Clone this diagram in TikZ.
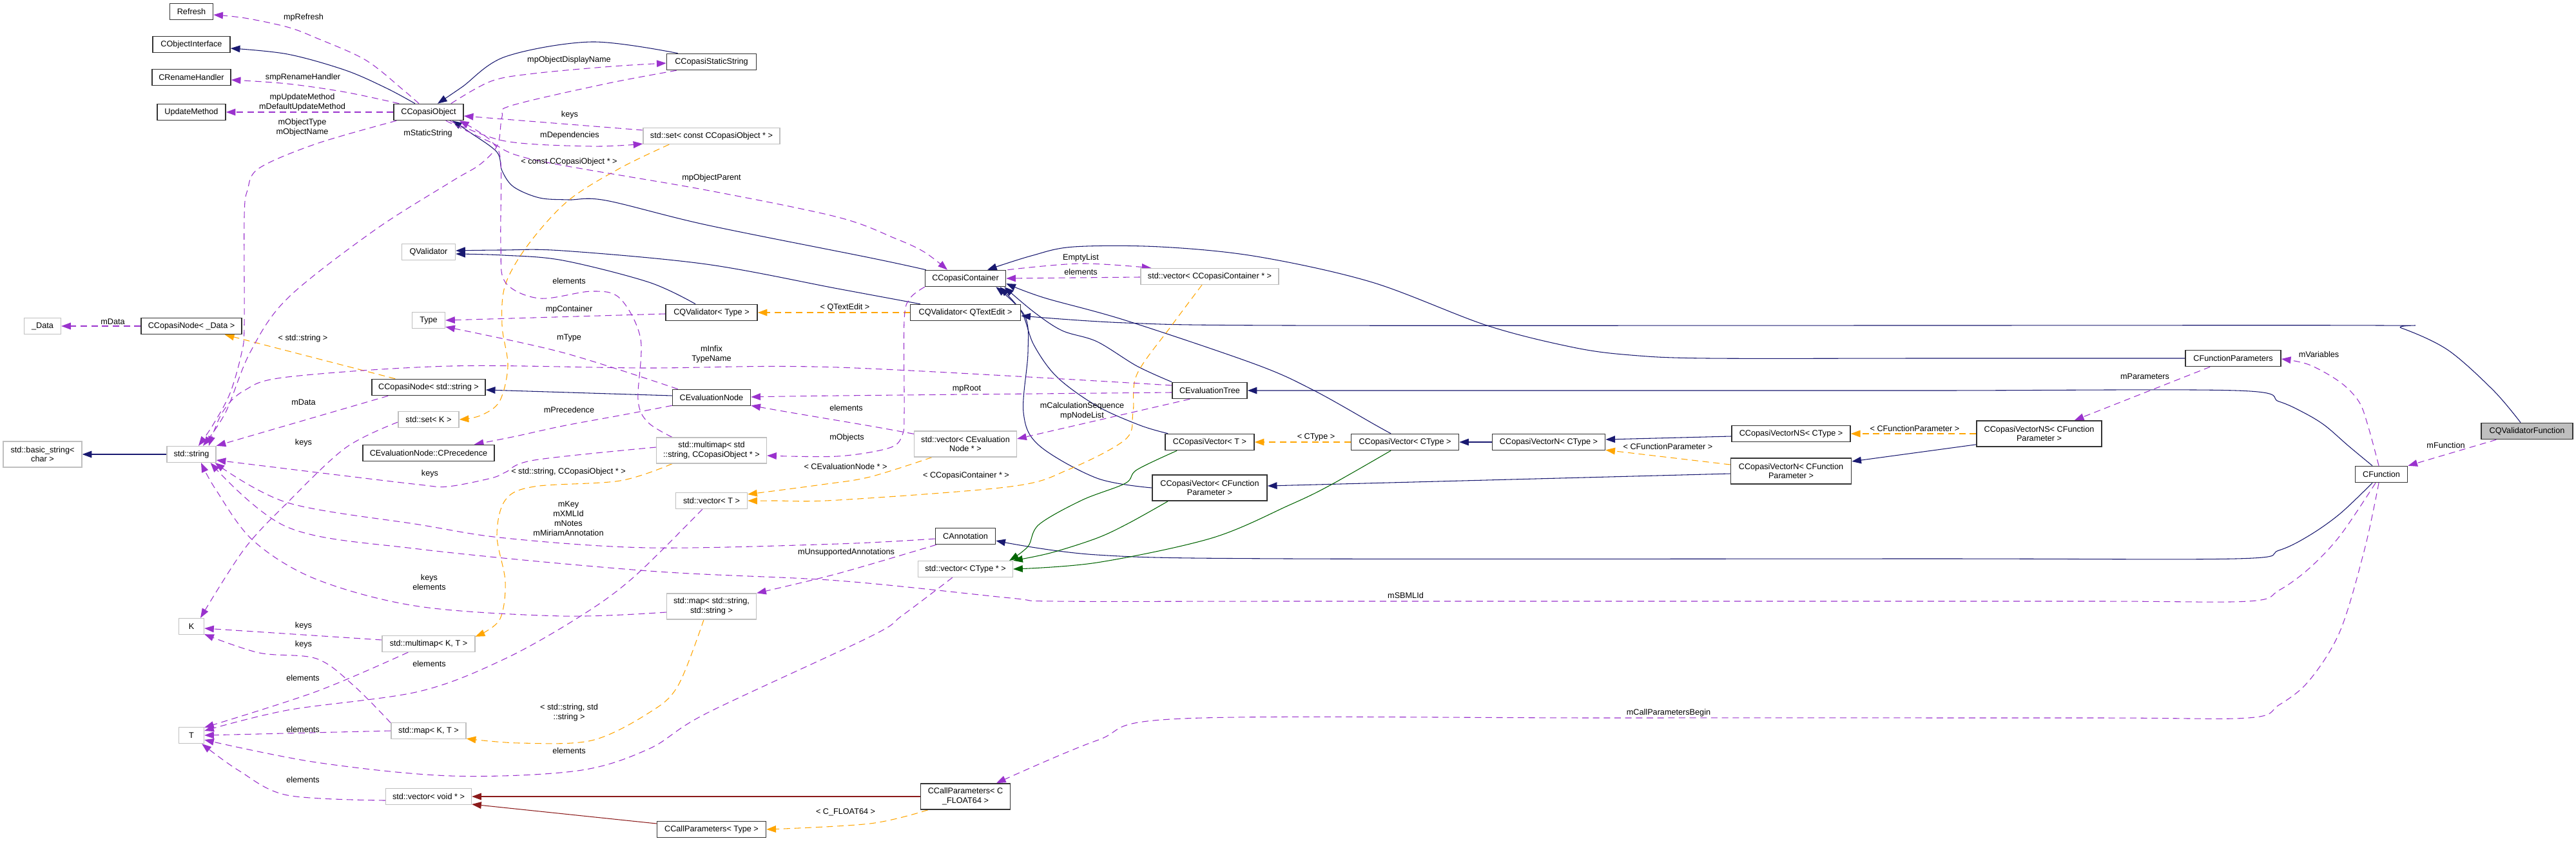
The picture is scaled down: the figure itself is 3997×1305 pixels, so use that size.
\documentclass[tikz,border=0pt]{standalone}
\usepackage{fontspec}
\setmainfont{Liberation Sans}
\usetikzlibrary{arrows.meta,calc}
\pgfdeclarelayer{bg}
\pgfsetlayers{bg,main}
\definecolor{navyc}{RGB}{25,25,112}
\definecolor{purc}{RGB}{154,50,205}
\definecolor{orac}{RGB}{255,165,0}
\definecolor{grnc}{RGB}{0,100,0}
\definecolor{redc}{RGB}{139,26,26}
\definecolor{bordgray}{RGB}{191,191,191}
\definecolor{fillgray}{RGB}{191,191,191}
\tikzset{
 box/.style={draw=black!80, line width=1.2pt, fill=white, inner sep=0pt, minimum height=18.75pt, align=center},
 gbox/.style={draw=bordgray, line width=1pt, fill=white, inner sep=0pt, minimum height=18.75pt, align=center},
 two/.style={minimum height=30pt},
 lbl/.style={inner sep=0pt, align=center},
 arrowend/.style={-{Triangle[length=11pt,width=8pt]}},
 eInh/.style={draw=navyc, line width=0.8pt, arrowend},
 eUse/.style={draw=purc, line width=0.8pt, arrowend, dash pattern=on 7.5pt off 5pt},
 eTpl/.style={draw=orac, line width=0.8pt, arrowend, dash pattern=on 7.5pt off 5pt},
 eProt/.style={draw=grnc, line width=0.8pt, arrowend},
 ePriv/.style={draw=redc, line width=0.8pt, arrowend}
}
\begin{document}
\begin{tikzpicture}[x=0.75pt,y=-0.75pt,font=\fontsize{9.5pt}{11.2pt}\selectfont]
\useasboundingbox (0,0) rectangle (3997,1305);
% ---------------- nodes ----------------
\node[gbox,minimum width=42.75pt] (data) at (66,506) {\_Data};
\node[gbox,two,minimum width=91.5pt] (bstr) at (66,705) {std::basic\_string<\\char >};
\node[box,minimum width=50.25pt] (refresh) at (297,18) {Refresh};
\node[box,minimum width=90pt] (cobjint) at (297,69) {CObjectInterface};
\node[box,minimum width=91.5pt] (crename) at (297,120) {CRenameHandler};
\node[box,minimum width=79.5pt] (updm) at (297,174) {UpdateMethod};
\node[box,minimum width=117pt] (cnodedata) at (297,506) {CCopasiNode< \_Data >};
\node[gbox,minimum width=57pt] (str) at (297,705) {std::string};
\node[gbox,minimum width=29.25pt] (K) at (297,972) {K};
\node[gbox,minimum width=29.25pt] (T) at (297,1141) {T};
\node[box,minimum width=81pt] (cobj) at (665,174) {CCopasiObject};
\node[gbox,minimum width=62.25pt] (qval) at (665,391) {QValidator};
\node[gbox,minimum width=38.25pt] (type) at (665,497) {Type};
\node[box,minimum width=132pt] (cnodestr) at (665,601) {CCopasiNode< std::string >};
\node[gbox,minimum width=70.5pt] (setK) at (665,651) {std::set< K >};
\node[box,minimum width=153pt] (cprec) at (665,703) {CEvaluationNode::CPrecedence};
\node[gbox,minimum width=108pt] (mmapKT) at (665,999) {std::multimap< K, T >};
\node[gbox,minimum width=87pt] (mapKT) at (665,1134) {std::map< K, T >};
\node[gbox,minimum width=99.75pt] (vecvoid) at (665,1236) {std::vector< void * >};
\node[box,minimum width=104.25pt] (cstat) at (1104,96) {CCopasiStaticString};
\node[gbox,minimum width=159pt] (setconst) at (1104,211) {std::set< const CCopasiObject * >};
\node[box,minimum width=106.5pt] (cqvtype) at (1104,485) {CQValidator< Type >};
\node[box,minimum width=90.75pt] (cevnode) at (1104,617) {CEvaluationNode};
\node[gbox,two,minimum width=128.25pt] (mmapstr) at (1104,699) {std::multimap< std\\::string, CCopasiObject * >};
\node[gbox,minimum width=83.25pt] (vecT) at (1104,777) {std::vector< T >};
\node[gbox,two,minimum width=104.25pt] (mapss) at (1104,941) {std::map< std::string,\\std::string >};
\node[box,minimum width=126.75pt] (ccpType) at (1104,1287) {CCallParameters< Type >};
\node[box,minimum width=93.75pt] (ccont) at (1498,432) {CCopasiContainer};
\node[box,minimum width=128.25pt] (cqvqte) at (1498,485) {CQValidator< QTextEdit >};
\node[gbox,two,minimum width=119.25pt] (vecEN) at (1498,689) {std::vector< CEvaluation\\Node * >};
\node[box,minimum width=69.75pt] (cannot) at (1498,832) {CAnnotation};
\node[gbox,minimum width=110.25pt] (vecCT) at (1498,883) {std::vector< CType * >};
\node[box,two,minimum width=104.25pt] (ccpF) at (1498,1236) {CCallParameters< C\\\_FLOAT64 >};
\node[gbox,minimum width=160.5pt] (vecCC) at (1877,429) {std::vector< CCopasiContainer * >};
\node[box,minimum width=87pt] (cevtree) at (1877,606) {CEvaluationTree};
\node[box,minimum width=103.5pt] (cvT) at (1877,686) {CCopasiVector< T >};
\node[box,two,minimum width=133.5pt] (cvFP) at (1877,757) {CCopasiVector< CFunction\\Parameter >};
\node[box,minimum width=125.25pt] (cvCT) at (2180,686) {CCopasiVector< CType >};
\node[box,minimum width=131.25pt] (cvnCT) at (2403,686) {CCopasiVectorN< CType >};
\node[box,minimum width=138pt] (cvnsCT) at (2779,673) {CCopasiVectorNS< CType >};
\node[box,two,minimum width=140.25pt] (cvnFP) at (2779,731) {CCopasiVectorN< CFunction\\Parameter >};
\node[box,two,minimum width=145.5pt] (cvnsFP) at (3164,673) {CCopasiVectorNS< CFunction\\Parameter >};
\node[box,minimum width=111pt] (cfparams) at (3465,556) {CFunctionParameters};
\node[box,minimum width=60.75pt] (cfunc) at (3695,736) {CFunction};
\node[box,fill=fillgray,minimum width=106.5pt] (cqvf) at (3921,669) {CQValidatorFunction};
% ---------------- labels ----------------
\node[lbl] (l1) at (471,27) {mpRefresh};
\node[lbl] (l2) at (470,120) {smpRenameHandler};
\node[lbl] (l3) at (469,159) {mpUpdateMethod\\mDefaultUpdateMethod};
\node[lbl] (l4) at (469,198) {mObjectType\\mObjectName};
\node[lbl] (l5) at (664,207) {mStaticString};
\node[lbl] (l6) at (883,93) {mpObjectDisplayName};
\node[lbl] (l7) at (884,178) {keys};
\node[lbl] (l8) at (884,210) {mDependencies};
\node[lbl] (l9) at (883,251) {< const CCopasiObject * >};
\node[lbl] (l10) at (1104,276) {mpObjectParent};
\node[lbl] (l11) at (883,436) {elements};
\node[lbl] (l12) at (883,480) {mpContainer};
\node[lbl] (l13) at (883,524) {mType};
\node[lbl] (l14) at (1104,550) {mInfix\\TypeName};
\node[lbl] (l15) at (883,636) {mPrecedence};
\node[lbl] (l16) at (1313,633) {elements};
\node[lbl] (l17) at (1311,477) {< QTextEdit >};
\node[lbl] (l18) at (1677,400) {EmptyList};
\node[lbl] (l19) at (1677,422) {elements};
\node[lbl] (l20) at (1500,603) {mpRoot};
\node[lbl] (l21) at (1679,638) {mCalculationSequence\\mpNodeList};
\node[lbl] (l22) at (175,499) {mData};
\node[lbl] (l23) at (470,525) {< std::string >};
\node[lbl] (l24) at (471,624) {mData};
\node[lbl] (l25) at (3598,550) {mVariables};
\node[lbl] (l26) at (3328,584) {mParameters};
\node[lbl] (l27) at (3795,691) {mFunction};
\node[lbl] (l28) at (471,687) {keys};
\node[lbl] (l29) at (667,735) {keys};
\node[lbl] (l30) at (666,903) {keys\\elements};
\node[lbl] (l31) at (471,971) {keys};
\node[lbl] (l32) at (471,1000) {keys};
\node[lbl] (l33) at (666,1030) {elements};
\node[lbl] (l34) at (470,1052) {elements};
\node[lbl] (l35) at (470,1132) {elements};
\node[lbl] (l36) at (470,1210) {elements};
\node[lbl] (l37) at (1314,679) {mObjects};
\node[lbl] (l38) at (1312,724) {< CEvaluationNode * >};
\node[lbl] (l39) at (882,732) {< std::string, CCopasiObject * >};
\node[lbl] (l40) at (882,805) {mKey\\mXMLId\\mNotes\\mMiriamAnnotation};
\node[lbl] (l41) at (1313,857) {mUnsupportedAnnotations};
\node[lbl] (l42) at (883,1106) {< std::string, std\\::string >};
\node[lbl] (l43) at (883,1165) {elements};
\node[lbl] (l44) at (1312,1260) {< C\_FLOAT64 >};
\node[lbl] (l45) at (1499,738) {< CCopasiContainer * >};
\node[lbl] (l46) at (2042,678) {< CType >};
\node[lbl] (l47) at (2588,693) {< CFunctionParameter >};
\node[lbl] (l48) at (2181,924) {mSBMLId};
\node[lbl] (l49) at (2589,1106) {mCallParametersBegin};
\node[lbl] (l50) at (2971,665) {< CFunctionParameter >};
% ---------------- edges ----------------
\begin{pgfonlayer}{bg}
\fill[white] (0,0) rectangle (3997,1305);
% navy (public inheritance)
\coordinate (s1) at ($(cobj.north)+(-21,0)$);
\coordinate (t1) at ($(cobjint.east)+(0,6)$);
\draw[eInh] plot[smooth,tension=0.55] coordinates {(s1) (600,137) (536,109) (446,84) (t1)};
\coordinate (s2) at ($(cstat.north west)+(18,0)$);
\coordinate (t2) at ($(cobj.north)+(14,0)$);
\draw[eInh] plot[smooth,tension=0.55] coordinates {(s2) (918,65) (784,88) (717,135) (t2)};
\coordinate (s3) at ($(ccont.north west)+(2,0)$);
\coordinate (t3) at ($(cobj.south east)+(-18,0)$);
\draw[eInh] plot[smooth,tension=0.55] coordinates {(s3) (1350,400) (1096,349) (940,311) (882,310) (837,307) (797,290) (779,265) (771,236) (730,206) (t3)};
\coordinate (s4) at ($(cqvtype.north)+(-25,0)$);
\coordinate (t4) at ($(qval.east)+(0,3)$);
\draw[eInh] plot[smooth,tension=0.55] coordinates {(s4) (1007,438) (873,404) (780,396) (t4)};
\coordinate (s5) at ($(cqvqte.north west)+(16,0)$);
\coordinate (t5) at ($(qval.east)+(0,-2)$);
\draw[eInh] plot[smooth,tension=0.55] coordinates {(s5) (1300,448) (1096,410) (873,389) (780,388) (t5)};
\draw[eInh] ($(cevnode.west)+(0,-3)$) -- ($(cnodestr.east)+(0,4)$);
\draw[eInh] (str.west) -- (bstr.east);
\coordinate (t8) at ($(ccont.south east)+(-3,0)$);
\draw[eInh] plot[smooth,tension=0.55] coordinates {(cevtree.north west) (1764,568) (1702,530) (1648,513) (1604,484) (t8)};
\coordinate (s9) at ($(cvT.north west)+(5,0)$);
\coordinate (t9) at ($(ccont.south east)+(-10,0)$);
\draw[eInh] plot[smooth,tension=0.55] coordinates {(s9) (1769,660) (1702,630) (1640,585) (1604,535) (1585,484) (t9)};
\coordinate (t9b) at ($(ccont.south east)+(-16,0)$);
\draw[eInh] plot[smooth,tension=0.55] coordinates {(cvFP.west) (1702,742) (1612,691) (1588,640) (1595,547) (1590,490) (t9b)};
\coordinate (s9c) at ($(cvCT.north)+(-22,0)$);
\coordinate (t9c) at ($(ccont.east)+(0,8)$);
\draw[eInh] plot[smooth,tension=0.55] coordinates {(s9c) (2135,660) (2039,606) (1950,566) (1746,497) (1620,462) (t9c)};
\coordinate (t10) at ($(ccont.north)+(34,0)$);
\draw[eInh] plot[smooth,tension=0.55] coordinates {(cfparams.west) (3000,556) (2650,556) (2530,551) (2441,539) (2307,505) (2129,438) (1950,398) (1800,383) (1666,383) (1600,397) (t10)};
\coordinate (s11) at ($(cfunc.north)+(-14,0)$);
\draw[eInh] plot[smooth,tension=0.55] coordinates {(s11) (3644,692) (3607,660) (3574,640) (3536,623) (3469,606) (3000,606) (2400,606) (cevtree.east)};
\coordinate (s12) at ($(cfunc.south)+(-14,0)$);
\coordinate (t12) at ($(cannot.east)+(0,7)$);
\draw[eInh] plot[smooth,tension=0.55] coordinates {(s12) (3631,797) (3583,831) (3536,854) (3469,867) (3000,867) (2000,867) (1702,861) (t12)};
\coordinate (s13) at ($(cqvf.north)+(-10,0)$);
\coordinate (t13) at ($(cqvqte.east)+(0,5)$);
\draw[eInh] plot[smooth,tension=0.55] coordinates {(s13) (3869,606) (3798,543) (3726,509) (3693,505) (3000,505) (2000,505) (1746,501) (t13)};
\draw[eInh] (cvnCT.west) -- (cvCT.east);
\draw[eInh] ($(cvnsCT.west)+(0,4)$) -- ($(cvnCT.east)+(0,-4)$);
\draw[eInh] ($(cvnFP.west)+(0,4)$) -- ($(cvFP.east)+(0,-3)$);
\draw[eInh] ($(cvnsFP.south west)+(0,-4)$) -- ($(cvnFP.east)+(0,-15)$);
% orange (template instances)
\draw[eTpl] ($(cnodestr.north west)+(37,0)$) -- ($(cnodedata.south east)+(-27,0)$);
\coordinate (so2) at ($(setconst.south west)+(41,0)$);
\draw[eTpl] plot[smooth,tension=0.55] coordinates {(so2) (962,261) (882,311) (820,379) (784,442) (779,505) (788,568) (775,623) (745,645) (setK.east)};
\draw[eTpl] (cqvqte.west) -- (cqvtype.east);
\coordinate (so4) at ($(vecCC.south)+(-12,0)$);
\draw[eTpl] plot[smooth,tension=0.55] coordinates {(so4) (1818,505) (1764,581) (1758,640) (1746,682) (1657,729) (1568,755) (1300,776) (1200,777) (vecT.east)};
\coordinate (so5) at ($(vecEN.south west)+(28,0)$);
\coordinate (to5) at ($(vecT.east)+(0,-10)$);
\draw[eTpl] plot[smooth,tension=0.55] coordinates {(so5) (1350,740) (1275,752) (to5)};
\coordinate (so6) at ($(mmapstr.south west)+(25,0)$);
\coordinate (to6) at ($(mmapKT.north east)+(0,2)$);
\draw[eTpl] plot[smooth,tension=0.55] coordinates {(so6) (962,746) (829,755) (784,776) (771,831) (784,903) (775,962) (to6)};
\coordinate (so7) at ($(mapss.south)+(-12,0)$);
\coordinate (to7) at ($(mapKT.south east)+(0,-1)$);
\draw[eTpl] plot[smooth,tension=0.55] coordinates {(so7) (1052,1064) (1007,1106) (918,1149) (806,1153) (to7)};
\draw[eTpl] (cvCT.west) -- (cvT.east);
\draw[eTpl] ($(cvnFP.west)+(0,-10)$) -- ($(cvnCT.south east)+(0,-1)$);
\draw[eTpl] (cvnsFP.west) -- (cvnsCT.east);
\coordinate (so11) at ($(ccpF.south west)+(12,0)$);
\draw[eTpl] plot[smooth,tension=0.55] coordinates {(so11) (1350,1278) (ccpType.east)};
% green (protected inheritance)
\coordinate (sg1) at ($(cvT.south west)+(19,0)$);
\coordinate (tg1) at ($(vecCT.north east)+(-6,0)$);
\draw[eProt] plot[smooth,tension=0.55] coordinates {(sg1) (1764,729) (1746,750) (1679,776) (1612,814) (1595,848) (tg1)};
\coordinate (sg2) at ($(cvFP.south west)+(25,0)$);
\draw[eProt] plot[smooth,tension=0.55] coordinates {(sg2) (1751,812) (1702,835) (1630,858) (vecCT.north east)};
\coordinate (sg3) at ($(cvCT.south)+(-22,0)$);
\draw[eProt] plot[smooth,tension=0.55] coordinates {(sg3) (2062,754) (2000,784) (1880,835) (1702,873) (vecCT.east)};
% dark red (private inheritance)
\draw[ePriv] (ccpF.west) -- (vecvoid.east);
\draw[ePriv] ($(ccpType.west)+(0,-9)$) -- ($(vecvoid.east)+(0,12)$);
% purple (usage)
\coordinate (sp1) at ($(cobj.north)+(-15,0)$);
\coordinate (tp1) at ($(refresh.east)+(0,5)$);
\draw[eUse] plot[smooth,tension=0.55] coordinates {(sp1) (625,139) (567,93) (491,59) (446,42) (380,28) (tp1)};
\coordinate (sp2) at ($(cobj.north west)+(9,0)$);
\coordinate (tp2) at ($(crename.east)+(0,4)$);
\draw[eUse] plot[smooth,tension=0.55] coordinates {(sp2) (536,143) (446,130) (tp2)};
\draw[eUse] (cobj.west) -- (updm.east);
\coordinate (sp4) at ($(cobj.south west)+(5,0)$);
\coordinate (tp4) at ($(str.north)+(11,0)$);
\draw[eUse] plot[smooth,tension=0.55] coordinates {(sp4) (491,223) (402,261) (384,295) (379,337) (379,505) (375,547) (357,610) (330,660) (tp4)};
\coordinate (sp5) at ($(cstat.south west)+(16,0)$);
\coordinate (tp5) at ($(str.north)+(18,0)$);
\draw[eUse] plot[smooth,tension=0.55] coordinates {(sp5) (940,130) (793,164) (779,181) (772,225) (745,255) (700,282) (580,358) (446,463) (388,547) (350,640) (tp5)};
\coordinate (sp6) at ($(cobj.north east)+(-20,0)$);
\coordinate (tp6) at ($(cstat.west)+(0,2)$);
\draw[eUse] plot[smooth,tension=0.55] coordinates {(sp6) (762,126) (829,114) (950,103) (tp6)};
\draw[eUse] ($(setconst.west)+(0,-9)$) -- ($(cobj.east)+(0,6)$);
\coordinate (sp8) at ($(cobj.south east)+(-22,0)$);
\coordinate (tp8) at ($(setconst.south west)+(0,-1)$);
\draw[eUse] plot[smooth,tension=0.55] coordinates {(sp8) (784,219) (918,227) (tp8)};
\coordinate (sp9) at ($(cobj.south east)+(-28,0)$);
\coordinate (tp9) at ($(ccont.north)+(-28,0)$);
\draw[eUse] plot[smooth,tension=0.55] coordinates {(sp9) (760,220) (829,248) (1096,295) (1300,337) (1389,370) (1434,391) (tp9)};
\coordinate (sp10) at ($(mmapstr.north west)+(25,0)$);
\coordinate (tp10) at ($(cobj.south east)+(-7,0)$);
\draw[eUse] plot[smooth,tension=0.55] coordinates {(sp10) (1005,655) (990,620) (994,526) (962,463) (918,452) (837,463) (784,438) (777,379) (777,253) (765,222) (739,202) (tp10)};
\coordinate (sp11) at ($(cqvtype.west)+(0,2)$);
\draw[eUse] (sp11) -- (type.east);
\coordinate (sp12) at ($(cevnode.north west)+(9,0)$);
\coordinate (tp12) at ($(type.south east)+(0,-3)$);
\draw[eUse] plot[smooth,tension=0.55] coordinates {(sp12) (873,547) (tp12)};
\coordinate (sp13) at ($(cevtree.west)+(0,-8)$);
\coordinate (tp13) at ($(str.north)+(27,0)$);
\draw[eUse] plot[smooth,tension=0.55] coordinates {(sp13) (1300,570) (1000,571) (700,568) (446,585) (379,606) (345,640) (tp13)};
\draw[eUse] ($(cnodestr.south west)+(26,0)$) -- (str.north east);
\coordinate (sp15) at ($(mmapstr.west)+(0,-5)$);
\coordinate (tp15) at ($(str.east)+(0,9)$);
\draw[eUse] plot[smooth,tension=0.55] coordinates {(sp15) (829,714) (784,733) (762,742) (695,755) (650,752) (491,733) (tp15)};
\coordinate (sp16) at ($(cannot.west)+(0,4)$);
\coordinate (tp16) at ($(str.south east)+(-2,0)$);
\draw[eUse] plot[smooth,tension=0.55] coordinates {(sp16) (1300,844) (1007,850) (784,835) (650,814) (446,780) (tp16)};
\coordinate (sp17) at ($(cfunc.south)+(-9,0)$);
\coordinate (tp17) at ($(str.south east)+(-9,0)$);
\draw[eUse] plot[smooth,tension=0.55] coordinates {(sp17) (3631,831) (3583,882) (3536,916) (3488,933) (3250,933) (2600,933) (2000,933) (1639,933) (1568,928) (1300,901) (1007,886) (650,852) (446,818) (tp17)};
\coordinate (sp18) at ($(mapss.west)+(0,9)$);
\coordinate (tp18) at ($(str.south)+(15,0)$);
\draw[eUse] plot[smooth,tension=0.55] coordinates {(sp18) (873,956) (650,941) (491,899) (393,839) (335,760) (tp18)};
\draw[eUse] (cnodedata.west) -- (data.east);
\coordinate (sp20) at ($(cevnode.south west)+(0,-1)$);
\coordinate (tp20) at ($(cprec.north east)+(-32,0)$);
\draw[eUse] plot[smooth,tension=0.55] coordinates {(sp20) (960,645) (873,661) (800,677) (tp20)};
\coordinate (sp21) at ($(cevtree.west)+(0,3)$);
\coordinate (tp21) at ($(cevnode.east)+(0,-1)$);
\draw[eUse] plot[smooth,tension=0.55] coordinates {(sp21) (1300,614) (tp21)};
\coordinate (sp22) at ($(vecEN.north west)+(0,5)$);
\coordinate (tp22) at ($(cevnode.south east)+(0,-1)$);
\draw[eUse] plot[smooth,tension=0.55] coordinates {(sp22) (1350,661) (1226,640) (tp22)};
\coordinate (sp23) at ($(cevtree.south west)+(28,0)$);
\coordinate (tp23) at ($(vecEN.east)+(0,-8)$);
\draw[eUse] (sp23) -- (tp23);
\coordinate (sp24) at ($(ccont.north east)+(2,0)$);
\coordinate (tp24) at ($(vecCC.north west)+(17,0)$);
\draw[eUse] plot[smooth,tension=0.55] coordinates {(sp24) (1677,409) (tp24)};
\draw[eUse] ($(vecCC.west)+(0,1)$) -- (ccont.east);
\coordinate (tp26) at ($(mmapstr.east)+(0,8)$);
\draw[eUse] plot[smooth,tension=0.55] coordinates {(ccont.south west) (1412,463) (1403,497) (1403,640) (1400,675) (1380,695) (1300,708) (tp26)};
\coordinate (sp27) at ($(cannot.south west)+(2,0)$);
\draw[eUse] plot[smooth,tension=0.55] coordinates {(sp27) (1300,890) (mapss.north east)};
\coordinate (sp28) at ($(vecT.south west)+(42,0)$);
\coordinate (tp28) at ($(T.east)+(0,-7)$);
\draw[eUse] plot[smooth,tension=0.55] coordinates {(sp28) (985,894) (904,954) (784,1022) (650,1073) (446,1102) (tp28)};
\coordinate (sp29) at ($(mmapKT.south west)+(41,0)$);
\coordinate (tp29) at ($(T.north east)+(0,1)$);
\draw[eUse] plot[smooth,tension=0.55] coordinates {(sp29) (491,1073) (tp29)};
\draw[eUse] (mapKT.west) -- (T.east);
\coordinate (sp31) at ($(vecCT.south west)+(54,0)$);
\coordinate (tp31) at ($(T.east)+(0,7)$);
\draw[eUse] plot[smooth,tension=0.55] coordinates {(sp31) (1400,955) (1350,988) (1096,1107) (1007,1162) (896,1196) (700,1204) (491,1183) (tp31)};
\coordinate (sp32) at ($(vecvoid.west)+(0,6)$);
\coordinate (tp32) at ($(T.south east)+(-4,0)$);
\draw[eUse] plot[smooth,tension=0.55] coordinates {(sp32) (446,1234) (371,1196) (tp32)};
\coordinate (sp33) at ($(setK.west)+(0,4)$);
\coordinate (tp33) at ($(K.north)+(14,0)$);
\draw[eUse] plot[smooth,tension=0.55] coordinates {(sp33) (536,695) (446,780) (379,852) (tp33)};
\draw[eUse] ($(mmapKT.west)+(0,-6)$) -- ($(K.east)+(0,3)$);
\coordinate (sp35) at ($(mapKT.north west)+(0,1)$);
\coordinate (tp35) at ($(K.south east)+(0,-1)$);
\draw[eUse] plot[smooth,tension=0.55] coordinates {(sp35) (549,1064) (491,1022) (402,1013) (tp35)};
\coordinate (sp36) at ($(cfunc.north)+(-4,0)$);
\coordinate (tp36) at ($(cfparams.east)+(0,1)$);
\draw[eUse] plot[smooth,tension=0.55] coordinates {(sp36) (3674,660) (3660,623) (3631,593) (3583,566) (tp36)};
\draw[eUse] ($(cfparams.south west)+(39,0)$) -- ($(cvnsFP.north east)+(-43,0)$);
\draw[eUse] ($(cqvf.south west)+(24,0)$) -- (cfunc.north east);
\coordinate (sp39) at ($(cfunc.south)+(-4,0)$);
\coordinate (tp39) at ($(ccpF.north)+(48,0)$);
\draw[eUse] plot[smooth,tension=0.55] coordinates {(sp39) (3669,852) (3631,979) (3583,1056) (3536,1094) (3488,1114) (3250,1114) (2500,1114) (1836,1115) (1702,1149) (tp39)};
\end{pgfonlayer}
\end{tikzpicture}
\end{document}
